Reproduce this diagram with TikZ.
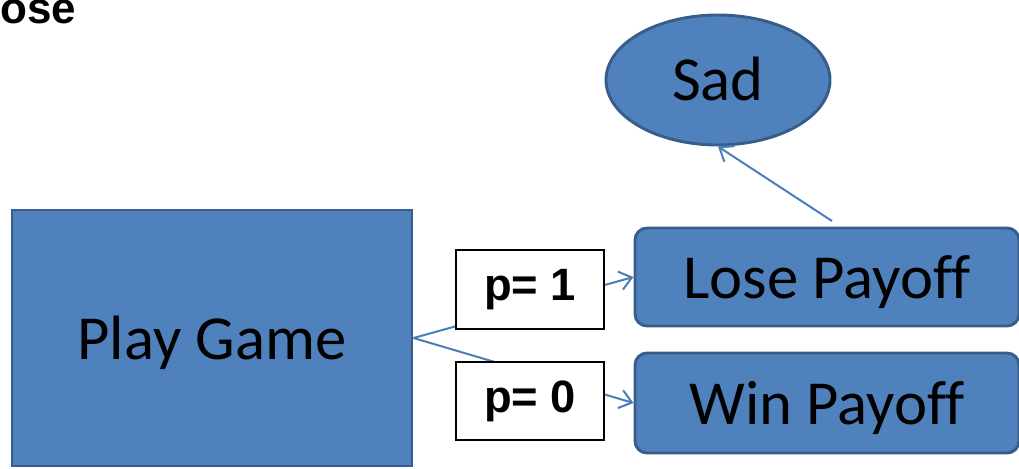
\documentclass[tikz,border=0pt]{standalone}
\usepackage{fontspec}
\setmainfont[Ligatures=NoCommon]{Carlito}
\newfontfamily\arialfont{Liberation Sans}
\usetikzlibrary{arrows.meta,shapes.geometric}
\definecolor{boxfill}{HTML}{4F81BD}
\definecolor{boxline}{HTML}{385D8A}
\definecolor{linkline}{HTML}{4A7EBB}
\tikzset{
  blockbox/.style={draw=boxline, fill=boxfill, line width=2.2pt, inner sep=0pt,
    font=\fontsize{47}{50}\selectfont},
  payoffbox/.style={blockbox, rounded corners=9pt, minimum width=288pt, text depth=0pt},
  probbox/.style={draw=black, fill=white, line width=1.3pt, inner sep=0pt,
    minimum width=111pt, minimum height=59pt,
    font=\arialfont\bfseries\fontsize{34}{38}\selectfont},
  link/.style={draw=linkline, line width=1.5pt,
    -{Straight Barb[length=9pt,width=14pt,line width=1.5pt]}},
}
\begin{document}
\begin{tikzpicture}[x=0.75pt,y=-0.75pt]
\useasboundingbox (0,0) rectangle (1019,468);
% heading fragment
\node[anchor=base west, inner sep=0pt, font=\arialfont\bfseries\fontsize{33}{36}\selectfont] (head) at (0,23) {ose};
% main blocks
\node[blockbox, minimum width=300pt, minimum height=192pt, text depth=0pt] (play) at (212,338) {Play Game};
\node[blockbox, ellipse, minimum width=168pt, minimum height=97.5pt] (sad) at (718,80) {\raisebox{2.5pt}{Sad}};
\node[payoffbox, minimum height=73.5pt] (lose) at (827,277) {Lose Payoff};
\node[payoffbox, minimum height=75pt] (win) at (827,403) {Win Payoff};
% connectors
\coordinate (sadfrom) at (832,221);
\draw[link] (play.east) -- (lose.west);
\draw[link] (play.east) -- (win.west);
\draw[link] (sadfrom) -- (sad.south);
% probability labels over the connectors
\node[probbox] (p1) at (530,289.5) {p= 1};
\node[probbox] (p0) at (530,401) {p= 0};
\end{tikzpicture}
\end{document}
